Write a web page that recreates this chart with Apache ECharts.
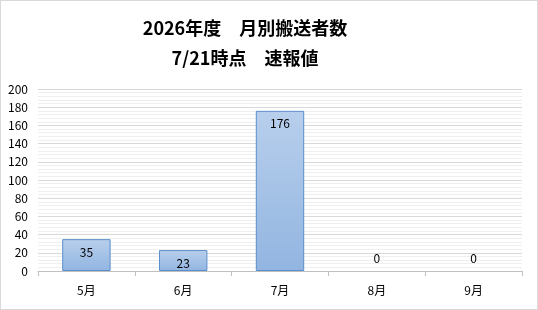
<!DOCTYPE html>
<html><head><meta charset="utf-8">
<script src="https://cdn.jsdelivr.net/npm/echarts@6/dist/echarts.min.js"></script>
<style>
html,body{margin:0;padding:0;background:#fff;}
#c{width:538px;height:310px;box-sizing:border-box;border:1px solid #d9d9d9;}
</style></head><body>
<div id="c"></div>
<script>
const titleLines = ['2026年度　月別搬送者数', '7/21時点　速報値'];
const categories = ['5月', '6月', '7月', '8月', '9月'];
const values = [35, 23, 176, 0, 0];
const yTicks = { min: 0, max: 200, interval: 20 };

const chart = echarts.init(document.getElementById('c'), null, { renderer: 'canvas' });
const font = '"Noto Sans CJK JP", "Noto Sans", sans-serif';
chart.setOption({
  animation: false,
  title: {
    text: titleLines.join('\n'),
    left: 239, top: 7, textAlign: 'center',
    textStyle: { fontFamily: font, fontSize: 18, fontWeight: 'bold', color: '#000', lineHeight: 30 }
  },
  grid: { left: 37, right: 15, top: 88, bottom: 38, containLabel: false },
  xAxis: {
    type: 'category', data: categories,
    axisLine: { lineStyle: { color: '#bfbfbf' } },
    axisTick: { show: true, length: 5, alignWithLabel: false, lineStyle: { color: '#bfbfbf' } },
    axisLabel: { fontFamily: font, fontSize: 12, color: '#000', margin: 13 }
  },
  yAxis: {
    type: 'value', min: yTicks.min, max: yTicks.max, interval: yTicks.interval,
    axisLine: { show: false }, axisTick: { show: false },
    axisLabel: { fontFamily: font, fontSize: 12, color: '#000', margin: 10 },
    splitLine: { lineStyle: { color: '#d9d9d9' } },
    minorTick: { show: false, splitNumber: 5 },
    minorSplitLine: { show: true, lineStyle: { color: '#efefef' } }
  },
  series: [{
    type: 'bar', barWidth: '50%',
    data: values.map(v => v === 0
      ? { value: v, itemStyle: { borderWidth: 0 }, label: { position: 'top', distance: 7 } }
      : v),
    itemStyle: {
      color: new echarts.graphic.LinearGradient(0, 0, 0, 1, [
        { offset: 0, color: '#b8cfec' }, { offset: 1, color: '#92b5e1' }
      ]),
      borderColor: '#5b8fcb', borderWidth: 1
    },
    label: { show: true, position: 'insideTop', distance: 7, fontFamily: font, fontSize: 12, color: '#000' }
  }]
});
</script></body></html>
